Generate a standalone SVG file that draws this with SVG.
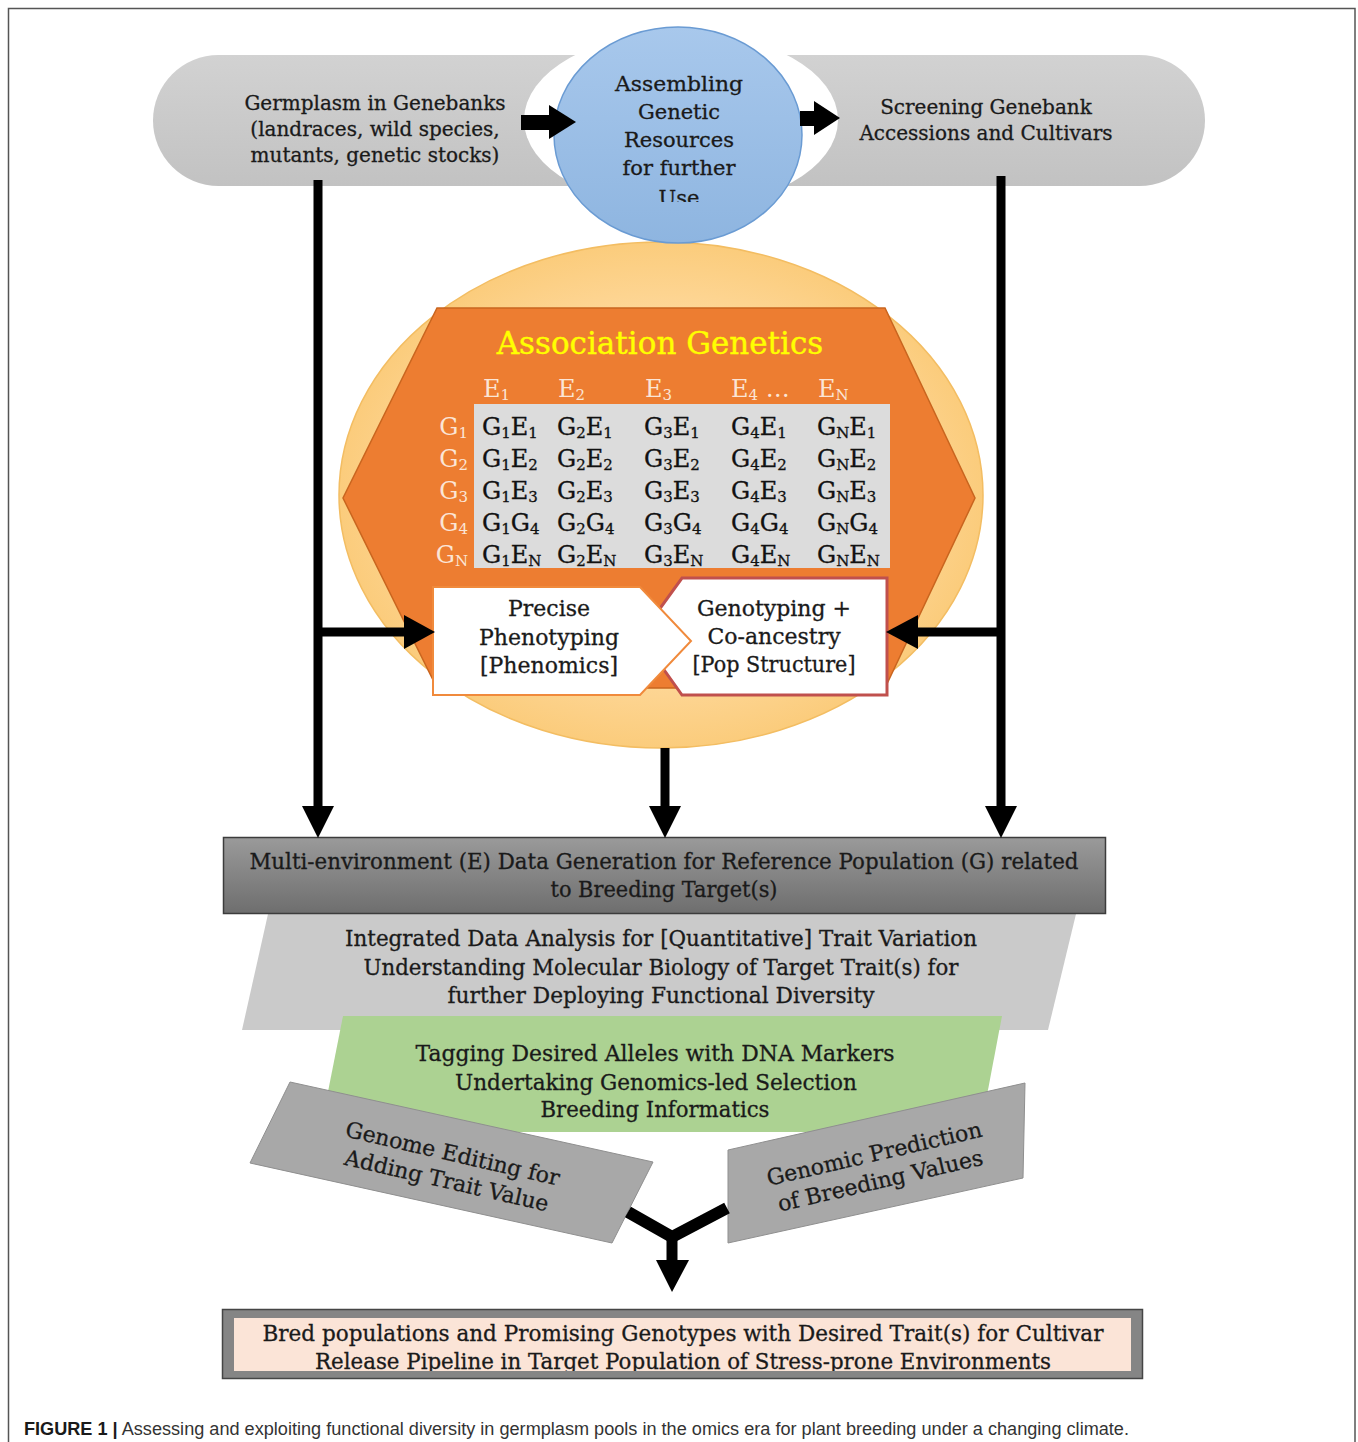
<svg xmlns="http://www.w3.org/2000/svg" width="1358" height="1442" viewBox="0 0 1358 1442">
<style>
.t{font-family:"DejaVu Serif","Liberation Serif",serif;fill:#1a1a1a;stroke:#1a1a1a;stroke-width:0.3;text-anchor:middle}
.t20{font-size:20px}
.t21{font-size:21px}
.t22{font-size:22px}
.tb{font-size:24px;font-family:"DejaVu Serif","Liberation Serif",serif;fill:#111;stroke:#111;stroke-width:0.3}
.hd{font-size:24px;font-family:"DejaVu Serif","Liberation Serif",serif;fill:#fbe5d6}
.s{font-size:15px}
.line{stroke:#000;stroke-width:9;fill:none}
.head{fill:#000}
.cap{font-family:"Liberation Sans",Arial,sans-serif;font-size:17.5px;fill:#333}
</style>
<defs>
<linearGradient id="gPill" x1="0" y1="0" x2="0" y2="1"><stop offset="0" stop-color="#d2d2d2"/><stop offset="1" stop-color="#c2c2c2"/></linearGradient>
<linearGradient id="gBlue" x1="0" y1="0" x2="0" y2="1"><stop offset="0" stop-color="#a8c8ec"/><stop offset="1" stop-color="#8eb5e0"/></linearGradient>
<linearGradient id="gBar" x1="0" y1="0" x2="0" y2="1"><stop offset="0" stop-color="#9a9a9a"/><stop offset="1" stop-color="#6e6e6e"/></linearGradient>
<radialGradient id="gYel" cx="0.5" cy="0.5" r="0.5"><stop offset="0.7" stop-color="#fed89a"/><stop offset="1" stop-color="#fbcc7c"/></radialGradient>
<clipPath id="cUse"><rect x="550" y="20" width="260" height="182"/></clipPath>
<clipPath id="cBot"><rect x="234" y="1318" width="897" height="53"/></clipPath>
</defs>
<rect width="1358" height="1442" fill="#fff"/>
<path d="M8.5,1442 V8.5 H1355 V1442" fill="none" stroke="#555" stroke-width="1.5"/>

<g id="pill">
<rect x="153" y="55" width="1052" height="131" rx="65.5" fill="url(#gPill)"/>
<ellipse cx="681" cy="120" rx="157" ry="88" fill="#fff"/>
</g>

<g id="germplasm">
<text class="t t20" x="375" y="110">Germplasm in Genebanks</text>
<text class="t t20" x="375" y="136">(landraces, wild species,</text>
<text class="t t20" x="375" y="162">mutants, genetic stocks)</text>
</g>

<g id="screening">
<text class="t t20" x="986" y="114">Screening Genebank</text>
<text class="t t20" x="986" y="140">Accessions and Cultivars</text>
</g>

<g id="association-circle">
<ellipse cx="661" cy="495" rx="322" ry="253" fill="url(#gYel)" stroke="#f3bd62" stroke-width="1.5"/>
<polygon points="437,308 885,308 975,498 885,688 437,688 343,498" fill="#ed7d31" stroke="#c9651f" stroke-width="1.5"/>
<text x="660" y="354" style="font-family:'DejaVu Serif','Liberation Serif',serif;font-size:31px;fill:#ffff00;stroke:#ffff00;stroke-width:0.4;text-anchor:middle">Association Genetics</text>
</g>

<g id="gxe-table">
<text class="hd" y="397"><tspan x="483">E</tspan><tspan class="s" dy="3">1</tspan><tspan x="558" dy="-3">E</tspan><tspan class="s" dy="3">2</tspan><tspan x="645" dy="-3">E</tspan><tspan class="s" dy="3">3</tspan><tspan x="731" dy="-3">E</tspan><tspan class="s" dy="3">4</tspan><tspan dy="-3"> …</tspan><tspan x="818">E</tspan><tspan class="s" dy="3">N</tspan></text>
<rect x="474" y="404" width="416" height="164" fill="#dcdcdc"/>
<g text-anchor="end">
<text class="hd" x="468" y="435">G<tspan class="s" dy="3">1</tspan></text>
<text class="hd" x="468" y="467">G<tspan class="s" dy="3">2</tspan></text>
<text class="hd" x="468" y="499">G<tspan class="s" dy="3">3</tspan></text>
<text class="hd" x="468" y="531">G<tspan class="s" dy="3">4</tspan></text>
<text class="hd" x="468" y="563">G<tspan class="s" dy="3">N</tspan></text>
</g>
<text class="tb" y="435"><tspan x="482">G</tspan><tspan class="s" dy="3">1</tspan><tspan dy="-3">E</tspan><tspan class="s" dy="3">1</tspan><tspan x="557" dy="-3">G</tspan><tspan class="s" dy="3">2</tspan><tspan dy="-3">E</tspan><tspan class="s" dy="3">1</tspan><tspan x="644" dy="-3">G</tspan><tspan class="s" dy="3">3</tspan><tspan dy="-3">E</tspan><tspan class="s" dy="3">1</tspan><tspan x="731" dy="-3">G</tspan><tspan class="s" dy="3">4</tspan><tspan dy="-3">E</tspan><tspan class="s" dy="3">1</tspan><tspan x="817" dy="-3">G</tspan><tspan class="s" dy="3">N</tspan><tspan dy="-3">E</tspan><tspan class="s" dy="3">1</tspan></text>
<text class="tb" y="467"><tspan x="482">G</tspan><tspan class="s" dy="3">1</tspan><tspan dy="-3">E</tspan><tspan class="s" dy="3">2</tspan><tspan x="557" dy="-3">G</tspan><tspan class="s" dy="3">2</tspan><tspan dy="-3">E</tspan><tspan class="s" dy="3">2</tspan><tspan x="644" dy="-3">G</tspan><tspan class="s" dy="3">3</tspan><tspan dy="-3">E</tspan><tspan class="s" dy="3">2</tspan><tspan x="731" dy="-3">G</tspan><tspan class="s" dy="3">4</tspan><tspan dy="-3">E</tspan><tspan class="s" dy="3">2</tspan><tspan x="817" dy="-3">G</tspan><tspan class="s" dy="3">N</tspan><tspan dy="-3">E</tspan><tspan class="s" dy="3">2</tspan></text>
<text class="tb" y="499"><tspan x="482">G</tspan><tspan class="s" dy="3">1</tspan><tspan dy="-3">E</tspan><tspan class="s" dy="3">3</tspan><tspan x="557" dy="-3">G</tspan><tspan class="s" dy="3">2</tspan><tspan dy="-3">E</tspan><tspan class="s" dy="3">3</tspan><tspan x="644" dy="-3">G</tspan><tspan class="s" dy="3">3</tspan><tspan dy="-3">E</tspan><tspan class="s" dy="3">3</tspan><tspan x="731" dy="-3">G</tspan><tspan class="s" dy="3">4</tspan><tspan dy="-3">E</tspan><tspan class="s" dy="3">3</tspan><tspan x="817" dy="-3">G</tspan><tspan class="s" dy="3">N</tspan><tspan dy="-3">E</tspan><tspan class="s" dy="3">3</tspan></text>
<text class="tb" y="531"><tspan x="482">G</tspan><tspan class="s" dy="3">1</tspan><tspan dy="-3">G</tspan><tspan class="s" dy="3">4</tspan><tspan x="557" dy="-3">G</tspan><tspan class="s" dy="3">2</tspan><tspan dy="-3">G</tspan><tspan class="s" dy="3">4</tspan><tspan x="644" dy="-3">G</tspan><tspan class="s" dy="3">3</tspan><tspan dy="-3">G</tspan><tspan class="s" dy="3">4</tspan><tspan x="731" dy="-3">G</tspan><tspan class="s" dy="3">4</tspan><tspan dy="-3">G</tspan><tspan class="s" dy="3">4</tspan><tspan x="817" dy="-3">G</tspan><tspan class="s" dy="3">N</tspan><tspan dy="-3">G</tspan><tspan class="s" dy="3">4</tspan></text>
<text class="tb" y="563"><tspan x="482">G</tspan><tspan class="s" dy="3">1</tspan><tspan dy="-3">E</tspan><tspan class="s" dy="3">N</tspan><tspan x="557" dy="-3">G</tspan><tspan class="s" dy="3">2</tspan><tspan dy="-3">E</tspan><tspan class="s" dy="3">N</tspan><tspan x="644" dy="-3">G</tspan><tspan class="s" dy="3">3</tspan><tspan dy="-3">E</tspan><tspan class="s" dy="3">N</tspan><tspan x="731" dy="-3">G</tspan><tspan class="s" dy="3">4</tspan><tspan dy="-3">E</tspan><tspan class="s" dy="3">N</tspan><tspan x="817" dy="-3">G</tspan><tspan class="s" dy="3">N</tspan><tspan dy="-3">E</tspan><tspan class="s" dy="3">N</tspan></text>
</g>

<g id="genotyping">
<polygon points="682,578 887,578 887,695 682,695 640,636" fill="#fff" stroke="#c0504d" stroke-width="3"/>
<text class="t t22" x="774" y="616">Genotyping +</text>
<text class="t t22" x="774" y="644">Co-ancestry</text>
<text class="t t22" x="774" y="672" textLength="163" lengthAdjust="spacingAndGlyphs">[Pop Structure]</text>
</g>

<g id="phenotyping">
<polygon points="433,587 640,587 691,641 640,695 433,695" fill="#fff" stroke="#f08a3c" stroke-width="2"/>
<text class="t t22" x="549" y="616">Precise</text>
<text class="t t22" x="549" y="645">Phenotyping</text>
<text class="t t22" x="549" y="673">[Phenomics]</text>
</g>

<g id="assembling">
<ellipse cx="678" cy="135" rx="124" ry="108" fill="url(#gBlue)" stroke="#6a9bd3" stroke-width="1.5"/>
<g clip-path="url(#cUse)">
<text class="t t21" x="679" y="91" textLength="128" lengthAdjust="spacingAndGlyphs">Assembling</text>
<text class="t t21" x="679" y="119">Genetic</text>
<text class="t t21" x="679" y="147">Resources</text>
<text class="t t21" x="679" y="175">for further</text>
<text class="t t21" x="679" y="205">Use</text>
</g>
</g>

<g id="analysis">
<polygon points="268,914 1076,914 1048,1030 242,1030" fill="#cacaca"/>
<text class="t t22" x="661" y="946" textLength="632" lengthAdjust="spacingAndGlyphs">Integrated Data Analysis for [Quantitative] Trait Variation</text>
<text class="t t22" x="661" y="975" textLength="595" lengthAdjust="spacingAndGlyphs">Understanding Molecular Biology of Target Trait(s) for</text>
<text class="t t22" x="661" y="1003" textLength="427" lengthAdjust="spacingAndGlyphs">further Deploying Functional Diversity</text>
</g>

<g id="multi-env">
<rect x="223.5" y="837.5" width="882" height="76" fill="url(#gBar)" stroke="#3c3c3c" stroke-width="1.5"/>
<text class="t t22" x="664" y="869" textLength="829" lengthAdjust="spacingAndGlyphs">Multi-environment (E) Data Generation for Reference Population (G) related</text>
<text class="t t22" x="664" y="897" textLength="227" lengthAdjust="spacingAndGlyphs">to Breeding Target(s)</text>
</g>

<g id="tagging">
<polygon points="343,1016 1002,1016 980,1132 320,1132" fill="#acd292"/>
<text class="t t22" x="655" y="1061" textLength="479" lengthAdjust="spacingAndGlyphs">Tagging Desired Alleles with DNA Markers</text>
<text class="t t22" x="656" y="1090" textLength="402" lengthAdjust="spacingAndGlyphs">Undertaking Genomics-led Selection</text>
<text class="t t22" x="655" y="1117" textLength="229" lengthAdjust="spacingAndGlyphs">Breeding Informatics</text>
</g>

<g id="genome-editing">
<polygon points="290,1082 653,1162 612,1243 250,1163" fill="#a8a8a8" stroke="#8f8f8f" stroke-width="1"/>
<text class="t t22" transform="translate(451,1161) rotate(13)">Genome Editing for</text>
<text class="t t22" transform="translate(445,1188) rotate(13)">Adding Trait Value</text>
</g>

<g id="genomic-prediction">
<polygon points="728,1150 1025,1083 1023,1178 728,1243" fill="#a8a8a8" stroke="#8f8f8f" stroke-width="1"/>
<text class="t t22" transform="translate(876,1161) rotate(-13)">Genomic Prediction</text>
<text class="t t22" transform="translate(882,1188) rotate(-13)">of Breeding Values</text>
</g>

<g id="bred-populations">
<rect x="222.5" y="1309.5" width="920" height="69" fill="#858585" stroke="#454545" stroke-width="1.5"/>
<rect x="234" y="1318" width="897" height="53" fill="#fbe4d7"/>
<g clip-path="url(#cBot)">
<text class="t t22" x="683" y="1341" textLength="841" lengthAdjust="spacingAndGlyphs">Bred populations and Promising Genotypes with Desired Trait(s) for Cultivar</text>
<text class="t t22" x="683" y="1369" textLength="736" lengthAdjust="spacingAndGlyphs">Release Pipeline in Target Population of Stress-prone Environments</text>
</g>
</g>

<g id="connectors">
<rect x="521" y="115" width="30" height="15" class="head"/>
<polygon class="head" points="549,105 576,122 549,139"/>
<rect x="800" y="111" width="16" height="15" class="head"/>
<polygon class="head" points="814,101 840,118 814,135"/>
<line class="line" x1="318" y1="180" x2="318" y2="810"/>
<polygon class="head" points="302,806 334,806 318,838"/>
<line class="line" x1="1001" y1="176" x2="1001" y2="810"/>
<polygon class="head" points="985,806 1017,806 1001,838"/>
<line class="line" x1="665" y1="748" x2="665" y2="810"/>
<polygon class="head" points="649,806 681,806 665,838"/>
<line class="line" x1="318" y1="632" x2="408" y2="632"/>
<polygon class="head" points="404,615 404,649 435,632"/>
<line class="line" x1="1001" y1="632" x2="914" y2="632"/>
<polygon class="head" points="918,615 918,649 886,632"/>
<polyline points="628,1212 672,1237 727,1208" fill="none" stroke="#000" stroke-width="12" stroke-linejoin="miter"/>
<line x1="672" y1="1235" x2="672" y2="1264" stroke="#000" stroke-width="11"/>
<polygon class="head" points="656,1260 689,1260 672,1292"/>
</g>

<g id="caption">
<text class="cap" x="24" y="1435" textLength="1105" lengthAdjust="spacingAndGlyphs"><tspan font-weight="bold" fill="#1a1a1a">FIGURE 1 |</tspan> Assessing and exploiting functional diversity in germplasm pools in the omics era for plant breeding under a changing climate.</text>
</g>
</svg>
